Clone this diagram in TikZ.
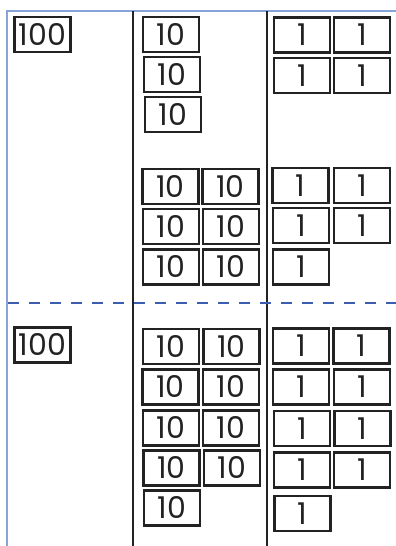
\documentclass[tikz,border=0pt]{standalone}
\usepackage{fontspec}
\setmainfont{Poppins}[Numbers=Proportional]
\definecolor{frameblue}{HTML}{86A4D8}
\definecolor{dashblue}{HTML}{3B5FAE}
\definecolor{ink}{HTML}{222222}
\begin{document}
\begin{tikzpicture}[x=1pt,y=-1pt,
  tile/.style={draw=ink, line width=2.4pt, minimum width=56pt, minimum height=35pt,
    inner sep=0pt, text=ink, font=\fontsize{30}{30}\selectfont, text height=21pt, text depth=0pt},
  framel/.style={draw=frameblue, line width=2.4pt},
  colline/.style={draw=ink, line width=2.4pt},
  splitl/.style={draw=dashblue, line width=2.4pt, dash pattern=on 11pt off 10pt}]
\useasboundingbox (0,0) rectangle (396,546);
% frame
\coordinate (tl) at (7,11);
\coordinate (tr) at (397,11);
\coordinate (bl) at (7,547);
\draw[framel] (bl) -- (tl) -- (tr);
\coordinate (c1t) at (133,11);
\coordinate (c1b) at (133,547);
\coordinate (c2t) at (267,11);
\coordinate (c2b) at (267,547);
\draw[colline] (c1t) -- (c1b);
\draw[colline] (c2t) -- (c2b);
\coordinate (dl) at (8,303);
\coordinate (dr) at (396,303);
\draw[splitl] (dl) -- (dr);
% top part
\node[tile] (h1) at (42.5,34.5) {100};
\node[tile] (ta1) at (171,34.5) {10};
\node[tile] (ta2) at (172,74.5) {10};
\node[tile] (ta3) at (173,114.5) {10};
\node[tile] (oa1) at (302,35) {1};
\node[tile] (oa2) at (362,35) {1};
\node[tile] (oa3) at (302,75.5) {1};
\node[tile] (oa4) at (362,75.5) {1};
\node[tile] (tb1) at (170.5,186.5) {10};
\node[tile] (tb2) at (230.5,186.5) {10};
\node[tile] (tb3) at (171,226.5) {10};
\node[tile] (tb4) at (231,226.5) {10};
\node[tile] (tb5) at (171,267) {10};
\node[tile] (tb6) at (231,267) {10};
\node[tile] (ob1) at (300.5,185.5) {1};
\node[tile] (ob2) at (362,185.5) {1};
\node[tile] (ob3) at (301,225.5) {1};
\node[tile] (ob4) at (362,225.5) {1};
\node[tile] (ob5) at (301,267) {1};
% bottom part
\node[tile] (h2) at (42.5,345) {100};
\node[tile] (tc1) at (171,346.5) {10};
\node[tile] (tc2) at (231.5,346.5) {10};
\node[tile] (tc3) at (170.5,387) {10};
\node[tile] (tc4) at (231,387) {10};
\node[tile] (tc5) at (171,428) {10};
\node[tile] (tc6) at (231,428) {10};
\node[tile] (tc7) at (171.5,468) {10};
\node[tile] (tc8) at (232,468) {10};
\node[tile] (tc9) at (172,508) {10};
\node[tile] (oc1) at (301,346) {1};
\node[tile] (oc2) at (361.5,346) {1};
\node[tile] (oc3) at (301,387) {1};
\node[tile] (oc4) at (362,387) {1};
\node[tile] (oc5) at (302,428.5) {1};
\node[tile] (oc6) at (362.5,428.5) {1};
\node[tile] (oc7) at (302,470) {1};
\node[tile] (oc8) at (362,470) {1};
\node[tile] (oc9) at (302.5,513.5) {1};
\end{tikzpicture}
\end{document}
